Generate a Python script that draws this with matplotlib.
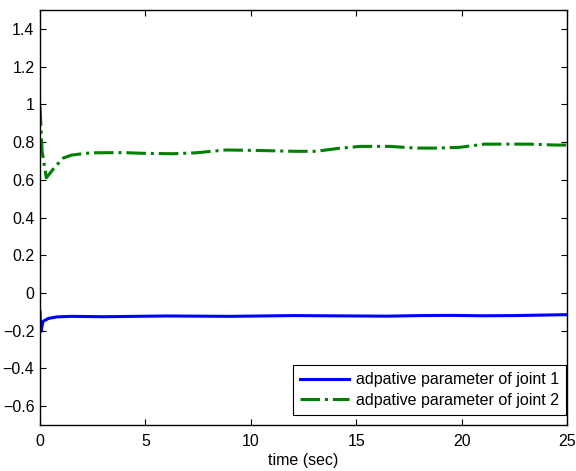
import matplotlib.pyplot as plt
import numpy as np

plt.rcParams['font.family'] = ['Liberation Sans', 'DejaVu Sans']

# adaptive parameter of joint 1 (blue)
t1 = [0, 0.04, 0.15, 0.4, 0.8, 1.5, 3, 4.5, 6, 7.5, 9, 10.5, 12, 13.5, 15, 16.5, 18, 19.5, 21, 22.5, 24, 25]
p1 = [-0.10, -0.205, -0.15, -0.135, -0.127, -0.124, -0.126, -0.124, -0.122, -0.123, -0.124, -0.122,
      -0.120, -0.121, -0.122, -0.123, -0.120, -0.119, -0.121, -0.120, -0.117, -0.115]

# adaptive parameter of joint 2 (green)
t2 = [0, 0.1, 0.3, 0.7, 1.1, 1.5, 2.4, 3.9, 5.0, 6.3, 7.4, 8.8, 10.0, 10.9, 12.0, 13.1, 14.2, 15.2,
      16.6, 17.8, 18.8, 19.9, 21.1, 22.2, 23.2, 24.5, 25]
p2 = [0.99, 0.75, 0.61, 0.667, 0.715, 0.731, 0.743, 0.744, 0.740, 0.738, 0.743, 0.758, 0.756, 0.754,
      0.751, 0.751, 0.767, 0.777, 0.777, 0.768, 0.768, 0.772, 0.789, 0.789, 0.789, 0.784, 0.784]

fig = plt.figure(figsize=(5.76, 4.71), dpi=100)
ax = fig.add_axes([40 / 576, 46 / 471, 527 / 576, 415 / 471])

ax.plot(t1, p1, color='#0000ff', linewidth=2.2, label='adpative parameter of joint 1')
ax.plot(t2, p2, color='#008000', linewidth=2.2, linestyle='-.', label='adpative parameter of joint 2')

ax.set_xlim(0, 25)
ax.set_ylim(-0.7, 1.5)
ax.set_xticks(np.arange(0, 26, 5))
ax.set_yticks(np.round(np.arange(-0.6, 1.41, 0.2), 1))
ax.set_yticklabels(['\u22120.6', '\u22120.4', '\u22120.2', '0', '0.2', '0.4', '0.6', '0.8', '1', '1.2', '1.4'])
ax.tick_params(direction='in', top=True, right=True, labelsize=11.5, length=4, width=0.8)
ax.tick_params(axis='x', pad=6.5)
ax.tick_params(axis='y', pad=4)
ax.set_xlabel('time (sec)', fontsize=11.5, labelpad=3)
for s in ax.spines.values():
    s.set_linewidth(1.0)

leg = ax.legend(loc='lower right', bbox_to_anchor=(0.998, 0.024), borderaxespad=0,
                fontsize=11.5, fancybox=False, edgecolor='black', framealpha=1,
                handlelength=3.1, handletextpad=0.4, borderpad=0.45, labelspacing=0.35)
leg.get_frame().set_linewidth(0.8)

fig.savefig('out.png', dpi=100)
